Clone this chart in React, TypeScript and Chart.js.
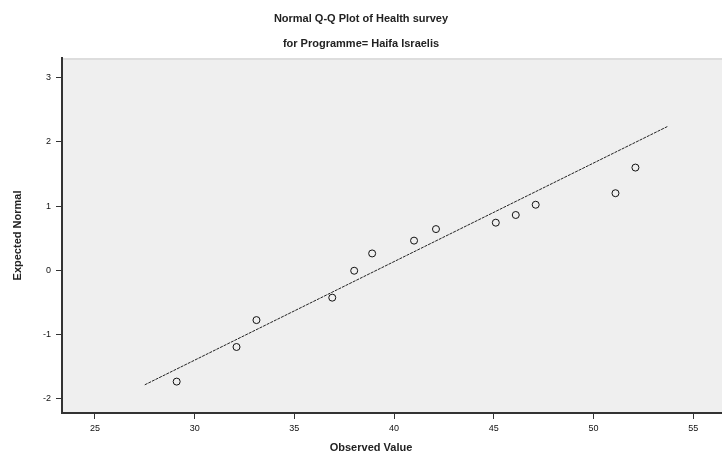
import React, { useEffect, useRef } from 'react';
import { Chart, registerables } from 'chart.js';

Chart.register(...registerables);

const titleLines = ['Normal Q-Q Plot of Health survey', 'for Programme= Haifa Israelis'];
const xAxisTitle = 'Observed Value';
const yAxisTitle = 'Expected Normal';
const xTicks = [25, 30, 35, 40, 45, 50, 55];
const yTicks = [-2, -1, 0, 1, 2, 3];
const observedValues = [29.1, 32.1, 33.1, 36.9, 38.0, 38.9, 41.0, 42.1, 45.1, 46.1, 47.1, 51.1, 52.1];
const expectedNormal = [-1.74, -1.2, -0.78, -0.43, -0.01, 0.26, 0.46, 0.64, 0.74, 0.86, 1.02, 1.2, 1.6];
const lineX = [27.5, 53.7];
const lineY = [-1.79, 2.24];

const FONT = 'Arial, "Liberation Sans", sans-serif';

const plotBg = {
  id: 'plotBg',
  beforeDraw(chart: any) {
    const { ctx, chartArea, width } = chart;
    const { left, top, bottom } = chartArea;
    ctx.save();
    ctx.fillStyle = '#efefef';
    ctx.fillRect(left, top, width - left, bottom - top);
    ctx.strokeStyle = '#dddddd';
    ctx.lineWidth = 2;
    ctx.beginPath();
    ctx.moveTo(left, top + 1);
    ctx.lineTo(width, top + 1);
    ctx.stroke();
    ctx.restore();
  },
  afterDraw(chart: any) {
    const { ctx, chartArea, width } = chart;
    ctx.save();
    ctx.strokeStyle = '#333';
    ctx.lineWidth = 2;
    ctx.beginPath();
    ctx.moveTo(chartArea.right - 1, chartArea.bottom);
    ctx.lineTo(width, chartArea.bottom);
    ctx.stroke();
    ctx.restore();
  },
};

const xTitlePlugin = {
  id: 'xTitle',
  afterDraw(chart: any) {
    const { ctx } = chart;
    ctx.save();
    ctx.font = `bold 11px ${FONT}`;
    ctx.fillStyle = '#222';
    ctx.textAlign = 'center';
    ctx.textBaseline = 'middle';
    ctx.fillText(xAxisTitle, 371, 448);
    ctx.restore();
  },
};

export default function App() {
  const ref = useRef<HTMLCanvasElement | null>(null);

  useEffect(() => {
    if (!ref.current) return;
    const chart = new Chart(ref.current, {
      type: 'scatter',
      data: {
        datasets: [
          {
            data: observedValues.map((x, i) => ({ x, y: expectedNormal[i] })),
            pointRadius: 3.5,
            pointBorderColor: '#111',
            pointBackgroundColor: 'rgba(0,0,0,0)',
            pointBorderWidth: 1,
            showLine: false,
          },
          {
            data: lineX.map((x, i) => ({ x, y: lineY[i] })),
            showLine: true,
            borderColor: '#222',
            borderWidth: 1,
            borderDash: [3, 1],
            pointRadius: 0,
          },
        ],
      },
      options: {
        responsive: false,
        animation: false,
        devicePixelRatio: 1,
        layout: { padding: 0 },
        plugins: {
          legend: { display: false },
          tooltip: { enabled: false },
          title: {
            display: true,
            text: titleLines,
            color: '#222',
            font: { family: FONT, size: 11, weight: 'bold', lineHeight: 25 / 11 },
            padding: { top: 6.5, bottom: 1.5 },
          },
        },
        scales: {
          x: {
            type: 'linear',
            min: 23.35,
            max: 56.19,
            afterBuildTicks: (s: any) => {
              s.ticks = xTicks.map((v) => ({ value: v }));
            },
            afterFit: (s: any) => {
              s.height = 47;
            },
            grid: { drawOnChartArea: false, drawTicks: true, tickLength: 6, tickColor: '#333', lineWidth: 1 },
            border: { display: true, color: '#333', width: 2 },
            ticks: { font: { family: FONT, size: 9 }, color: '#111', padding: 4, maxRotation: 0, autoSkip: false },
            title: { display: false },
          },
          y: {
            type: 'linear',
            min: -2.23,
            max: 3.31,
            afterBuildTicks: (s: any) => {
              s.ticks = yTicks.map((v) => ({ value: v }));
            },
            afterFit: (s: any) => {
              s.width = 62;
            },
            grid: { drawOnChartArea: false, drawTicks: true, tickLength: 6, tickColor: '#333', lineWidth: 1 },
            border: { display: true, color: '#333', width: 2 },
            ticks: { font: { family: FONT, size: 9 }, color: '#111', padding: 5, autoSkip: false },
            title: {
              display: true,
              text: yAxisTitle,
              color: '#222',
              font: { family: FONT, size: 11, weight: 'bold' },
              padding: { top: 11.4, bottom: 0 },
            },
          },
        },
      },
      plugins: [plotBg, xTitlePlugin],
    });
    return () => chart.destroy();
  }, []);

  return (
    <div style={{ position: 'absolute', left: 0, top: 0, width: 722, height: 460, background: '#fff' }}>
      <canvas ref={ref} width={722} height={460} style={{ display: 'block' }} />
    </div>
  );
}
